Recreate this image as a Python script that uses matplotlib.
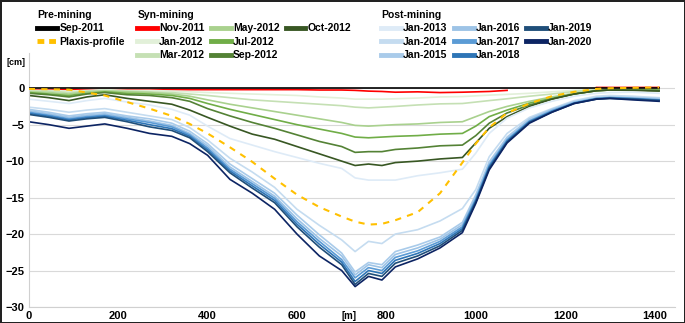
import numpy as np
import matplotlib
matplotlib.use("Agg")
import matplotlib.pyplot as plt
from matplotlib.lines import Line2D

plt.rcParams['font.family'] = ['Liberation Sans', 'DejaVu Sans']

# distance along the profile [m]
dist = [0, 45, 90, 130, 170, 220, 270, 320, 360, 400, 450, 500, 550, 600, 650, 700,
        730, 760, 790, 820, 870, 920, 970, 1000, 1030, 1070, 1120, 1170, 1220, 1270,
        1300, 1350, 1410]

# subsidence [cm]
sep_2011 = [0.0] * 33
plaxis = [-0.1, -0.15, -0.2, -0.6, -1.0, -1.9, -2.8, -3.8, -4.9, -6.2, -8.1, -10.1, -12.4,
          -14.6, -16.3, -17.6, -18.3, -18.7, -18.6, -18.1, -17.0, -14.4, -10.2, -7.6, -5.4,
          -3.4, -2.1, -1.1, -0.5, -0.1, 0.0, 0.05, 0.1]
nov_2011 = [-0.2, -0.2, -0.2, -0.2, -0.2, -0.2, -0.2, -0.2, -0.2, -0.2, -0.2, -0.2, -0.2,
            -0.2, -0.25, -0.25, -0.3, -0.4, -0.45, -0.55, -0.5, -0.6, -0.55, -0.5, -0.45,
            -0.3, np.nan, np.nan, np.nan, 0.1, 0.1, 0.1, 0.1]
jan_2012 = [-0.3, -0.3, -0.4, -0.3, -0.2, -0.3, -0.3, -0.4, -0.5, -0.6, -0.7, -0.8, -0.9,
            -1.0, -1.2, -1.35, -1.5, -1.5, -1.5, -1.45, -1.35, -1.2, -1.15, -1.05, -0.95,
            -0.85, -0.7, -0.5, -0.3, -0.15, -0.1, -0.1, -0.15]
mar_2012 = [-0.4, -0.4, -0.6, -0.4, -0.3, -0.4, -0.5, -0.6, -0.8, -1.0, -1.3, -1.6, -1.8,
            -2.0, -2.2, -2.4, -2.6, -2.7, -2.6, -2.5, -2.3, -2.15, -2.1, -1.9, -1.7, -1.45,
            -1.1, -0.8, -0.45, -0.2, -0.15, -0.15, -0.2]
may_2012 = [-0.5, -0.6, -0.8, -0.5, -0.4, -0.5, -0.6, -0.8, -1.1, -1.6, -2.2, -2.7, -3.2,
            -3.7, -4.2, -4.7, -5.1, -5.2, -5.1, -5.0, -4.9, -4.7, -4.6, -3.9, -3.2, -2.5,
            -1.8, -1.2, -0.7, -0.3, -0.2, -0.2, -0.25]
jul_2012 = [-0.6, -0.8, -1.0, -0.7, -0.5, -0.7, -0.8, -1.0, -1.4, -2.1, -2.9, -3.6, -4.3,
            -5.0, -5.6, -6.2, -6.7, -6.8, -6.7, -6.6, -6.5, -6.3, -6.2, -5.2, -3.9, -3.0,
            -2.05, -1.4, -0.8, -0.35, -0.25, -0.25, -0.3]
sep_2012 = [-0.7, -0.9, -1.2, -0.8, -0.6, -0.9, -1.0, -1.3, -1.8, -2.8, -3.8, -4.7, -5.5,
            -6.4, -7.3, -8.0, -8.8, -8.7, -8.7, -8.4, -8.2, -7.9, -7.8, -6.5, -4.8, -3.4,
            -2.3, -1.5, -0.8, -0.35, -0.25, -0.25, -0.3]
oct_2012 = [-1.0, -1.3, -1.7, -1.2, -0.9, -1.4, -1.8, -2.2, -3.0, -4.0, -5.2, -6.3, -7.0,
            -8.0, -9.0, -10.0, -10.6, -10.4, -10.6, -10.2, -10.0, -9.7, -9.5, -7.5, -5.5,
            -3.9, -2.5, -1.5, -0.8, -0.35, -0.25, -0.3, -0.4]
jan_2013 = [-1.5, -1.8, -2.1, -1.7, -1.4, -1.9, -2.3, -2.9, -3.7, -5.2, -6.9, -7.8, -8.7,
            -9.5, -10.3, -11.0, -12.3, -12.6, -12.6, -12.6, -12.0, -11.6, -11.1, -8.9, -6.2,
            -4.1, -2.7, -1.8, -1.1, -0.7, -0.6, -0.55, -0.7]
jan_2014 = [-2.6, -2.9, -3.3, -3.0, -2.8, -3.3, -3.8, -4.3, -5.4, -7.1, -9.6, -11.5, -13.6,
            -16.6, -18.8, -20.8, -22.4, -21.0, -21.3, -20.0, -19.4, -18.2, -16.5, -13.9,
            -9.4, -6.2, -4.0, -2.8, -1.7, -1.1, -1.0, -1.1, -1.3]
jan_2015 = [-2.9, -3.3, -3.8, -3.5, -3.3, -3.8, -4.2, -4.8, -5.9, -7.6, -10.4, -12.4, -14.4,
            -17.4, -20.1, -22.6, -25.2, -23.9, -24.2, -22.4, -21.5, -20.4, -18.4, -14.6,
            -10.1, -6.7, -4.2, -2.9, -1.85, -1.3, -1.2, -1.3, -1.4]
jan_2016 = [-3.1, -3.5, -4.0, -3.7, -3.5, -4.0, -4.5, -5.1, -6.2, -7.9, -10.8, -12.8, -14.8,
            -17.9, -20.6, -23.0, -25.6, -24.2, -24.6, -22.8, -21.9, -20.7, -18.7, -14.9,
            -10.4, -6.9, -4.4, -3.0, -1.95, -1.35, -1.25, -1.35, -1.5]
jan_2017 = [-3.3, -3.7, -4.2, -3.9, -3.7, -4.2, -4.7, -5.3, -6.4, -8.2, -11.1, -13.1, -15.1,
            -18.3, -21.0, -23.5, -26.0, -24.6, -25.0, -23.2, -22.3, -21.0, -19.0, -15.2,
            -10.6, -7.1, -4.5, -3.1, -2.0, -1.4, -1.3, -1.4, -1.6]
jan_2018 = [-3.45, -3.85, -4.35, -4.05, -3.85, -4.4, -5.0, -5.55, -6.6, -8.45, -11.35,
            -13.4, -15.4, -18.65, -21.4, -23.85, -26.5, -25.0, -25.4, -23.6, -22.65, -21.3,
            -19.25, -15.4, -10.8, -7.25, -4.6, -3.2, -2.05, -1.45, -1.35, -1.45, -1.65]
jan_2019 = [-3.6, -4.0, -4.5, -4.2, -4.0, -4.6, -5.3, -5.8, -6.8, -8.7, -11.6, -13.7, -15.7,
            -19.0, -21.8, -24.2, -26.9, -25.4, -25.8, -24.0, -23.0, -21.6, -19.5, -15.6,
            -11.0, -7.4, -4.7, -3.3, -2.1, -1.5, -1.4, -1.5, -1.7]
jan_2020 = [-4.6, -5.0, -5.5, -5.2, -4.9, -5.5, -6.2, -6.6, -7.6, -9.2, -12.5, -14.4, -16.6,
            -20.0, -23.0, -25.0, -27.2, -25.8, -26.3, -24.5, -23.4, -21.9, -19.8, -15.8,
            -11.2, -7.5, -4.8, -3.3, -2.1, -1.5, -1.4, -1.6, -1.8]

syn_labels = ['Nov-2011', 'Jan-2012', 'Mar-2012', 'May-2012', 'Jul-2012', 'Sep-2012', 'Oct-2012']
syn_data = [nov_2011, jan_2012, mar_2012, may_2012, jul_2012, sep_2012, oct_2012]
syn_colors = ['#ff0000', '#e2f0d9', '#c5e0b4', '#a9d18e', '#70ad47', '#548235', '#385723']

post_labels = ['Jan-2013', 'Jan-2014', 'Jan-2015', 'Jan-2016', 'Jan-2017', 'Jan-2018',
               'Jan-2019', 'Jan-2020']
post_data = [jan_2013, jan_2014, jan_2015, jan_2016, jan_2017, jan_2018, jan_2019, jan_2020]
post_colors = ['#deebf7', '#c5dcf0', '#a9cbea', '#9dc3e6', '#5b9bd5', '#2e75b6', '#1f4e79',
               '#0c2463']

fig = plt.figure(figsize=(6.85, 3.23), dpi=100, linewidth=2, edgecolor='#222222')
ax = fig.add_axes([0.042, 0.0495, 0.943, 0.787])

pre_lines = []
pre_lines += ax.plot(dist, sep_2011, color='black', lw=1.2, label='Sep-2011', zorder=3)
syn_lines = []
for lab, d, c in zip(syn_labels, syn_data, syn_colors):
    syn_lines += ax.plot(dist, d, color=c, lw=1.2, label=lab, zorder=2)
post_lines = []
for lab, d, c in zip(post_labels, post_data, post_colors):
    post_lines += ax.plot(dist, d, color=c, lw=1.2, label=lab, zorder=2)
pre_lines += ax.plot(dist, plaxis, color='#ffc000', lw=1.5, ls=(0, (3, 3)),
                     label='Plaxis-profile', zorder=4)

ax.set_xlim(0, 1445)
ax.set_ylim(-30, 4.85)
ax.set_xticks(range(0, 1401, 200))
ax.set_yticks(range(-30, 1, 5))
ax.yaxis.grid(True, color='#d9d9d9', lw=0.8)
ax.set_axisbelow(True)
ax.tick_params(length=0, labelsize=8, pad=3)
for lbl in ax.get_xticklabels() + ax.get_yticklabels():
    lbl.set_fontweight('bold')
for s in ['top', 'right']:
    ax.spines[s].set_visible(False)
for s in ['left', 'bottom']:
    ax.spines[s].set_color('#d0d0d0')
    ax.spines[s].set_linewidth(0.8)

ax.text(700, -30.6, '[m]', fontsize=7, fontweight='bold', ha='left', va='top')
fig.text(0.009, 0.808, '[cm]', fontsize=6.5, fontweight='bold', ha='left', va='center')

leg_kw = dict(loc='upper left', frameon=False, borderpad=0, handlelength=1.9,
              handletextpad=0.2, labelspacing=0.33, columnspacing=0.6,
              prop={'weight': 'bold', 'size': 7.5},
              title_fontproperties={'weight': 'bold', 'size': 7.5}, alignment='left')

# blank slot so that Oct-2012 sits alone in the third column
blank = Line2D([], [], color='none', label=' ')

leg1 = fig.legend(handles=pre_lines, title='Pre-mining', ncol=1,
                  bbox_to_anchor=(0.047, 0.985), **leg_kw)
leg2 = fig.legend(handles=syn_lines + [blank], title='Syn-mining', ncol=3,
                  bbox_to_anchor=(0.193, 0.985), **leg_kw)
leg3 = fig.legend(handles=post_lines, title='Post-mining', ncol=3,
                  bbox_to_anchor=(0.549, 0.985), **leg_kw)
for leg in [leg1, leg2, leg3]:
    for h in leg.legend_handles:
        h.set_linewidth(3.5)
# two short dashes for the Plaxis entry, as in the original legend
leg1.legend_handles[1].set_dashes([1.4, 1.0])

fig.savefig('out.png', dpi=100)
